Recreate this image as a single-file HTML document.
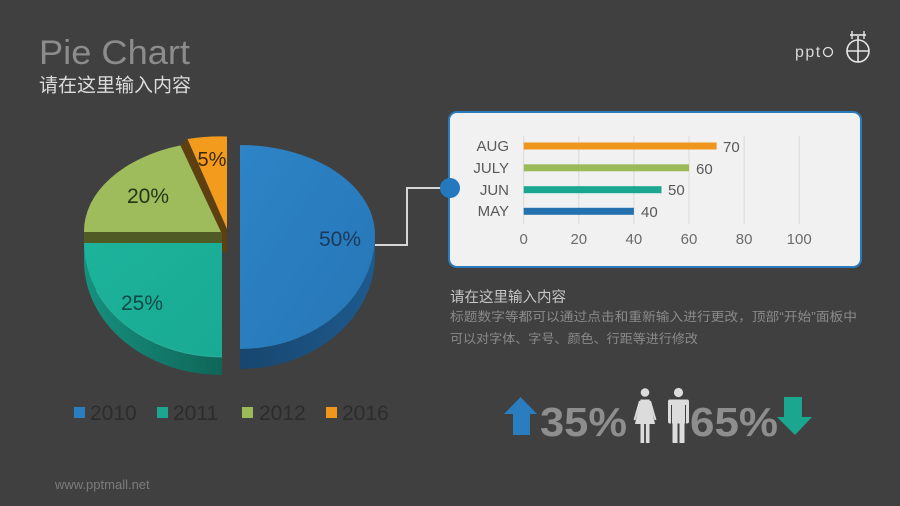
<!DOCTYPE html>
<html><head><meta charset="utf-8">
<style>
html,body{margin:0;padding:0;background:#404040;}
svg{display:block;}
text{font-family:"Liberation Sans","Noto Sans CJK SC",sans-serif;}
</style></head>
<body>
<svg width="900" height="506" viewBox="0 0 900 506" xmlns="http://www.w3.org/2000/svg">
<defs>
<linearGradient id="blueTop" x1="0" y1="0" x2="1" y2="1">
<stop offset="0" stop-color="#2d84c6"/><stop offset="1" stop-color="#2676b6"/></linearGradient>
<linearGradient id="blueSide" x1="0" y1="0" x2="1" y2="0">
<stop offset="0" stop-color="#17466e"/><stop offset="1" stop-color="#1d5a8e"/></linearGradient>
<linearGradient id="tealTop" x1="0" y1="0" x2="1" y2="1">
<stop offset="0" stop-color="#1db39b"/><stop offset="1" stop-color="#19aa93"/></linearGradient>
<linearGradient id="tealSide" x1="0" y1="0" x2="1" y2="0">
<stop offset="0" stop-color="#16907f"/><stop offset="1" stop-color="#0f6658"/></linearGradient>
</defs>
<rect width="900" height="506" fill="#404040"/>

<!-- Title -->
<text x="39" y="64" font-size="34" fill="#8c8c8c" textLength="151" lengthAdjust="spacingAndGlyphs">Pie Chart</text>
<text x="39" y="91.5" font-size="19" fill="#dcdcdc">请在这里输入内容</text>

<!-- Logo -->
<text x="795" y="57" font-size="16" fill="#d8d8d8" letter-spacing="1.5" font-weight="normal">ppt</text>
<circle cx="828" cy="52" r="4.5" fill="none" stroke="#e0e0e0" stroke-width="1.3"/>
<circle cx="858" cy="51" r="11" fill="none" stroke="#e6e6e6" stroke-width="1.6"/>
<line x1="858" y1="36" x2="858" y2="62" stroke="#e6e6e6" stroke-width="1.6"/>
<line x1="847" y1="51" x2="869" y2="51" stroke="#e6e6e6" stroke-width="1.6"/>
<line x1="850" y1="35" x2="866" y2="35" stroke="#e6e6e6" stroke-width="1.6"/>
<line x1="852" y1="31" x2="852" y2="39" stroke="#e6e6e6" stroke-width="1.4"/>
<line x1="864" y1="31" x2="864" y2="39" stroke="#e6e6e6" stroke-width="1.4"/>

<!-- Pie: orange -->
<path d="M187,139 L227,229 L227,252 L221,252 L179.4,146.4 Z" fill="#5e3f0f"/>
<path d="M227,229 L187.5,139 A138,90 0 0 1 227,136.5 Z" fill="#f29b1d"/>
<!-- green -->
<rect x="84" y="232" width="138" height="12" fill="#4f5a25"/>
<path d="M221,232 L84,232 A138,90 0 0 1 180.4,145.4 Z" fill="#9ebc5b"/>
<!-- teal -->
<path d="M84,243 A138,114 0 0 0 222,357 L222,375 A138,114 0 0 1 84,261 Z" fill="url(#tealSide)"/>
<path d="M222,243 L84,243 A138,114 0 0 0 222,357 Z" fill="url(#tealTop)"/>
<path d="M96,290 A138,114 0 0 0 222,357" fill="none" stroke="#3fd0b8" stroke-width="1" opacity="0.5"/>
<!-- blue -->
<path d="M375,235 A135,114 0 0 1 240,349 L240,369 A135,114 0 0 0 375,255 Z" fill="url(#blueSide)"/>
<path d="M240,235 L240,145 A135,90 0 0 1 375,235 A135,114 0 0 1 240,349 Z" fill="url(#blueTop)"/>

<!-- pie labels -->
<text x="212" y="166" font-size="20" fill="#3a2608" text-anchor="middle">5%</text>
<text x="148" y="203" font-size="21" fill="#26341a" text-anchor="middle">20%</text>
<text x="142" y="310" font-size="21" fill="#0f4a44" text-anchor="middle">25%</text>
<text x="340" y="246" font-size="21" fill="#1a3a5c" text-anchor="middle">50%</text>

<!-- connector -->
<polyline points="375,245 407,245 407,188 445,188" fill="none" stroke="#d6d6d6" stroke-width="2"/>

<!-- panel -->
<rect x="449" y="112" width="412" height="155" rx="8" ry="8" fill="#f1f1f1" stroke="#2a7bbd" stroke-width="2"/>
<circle cx="450" cy="188" r="10" fill="#2478bd"/>

<!-- grid -->
<g stroke="#dadada" stroke-width="1">
<line x1="523.7" y1="136" x2="523.7" y2="224"/>
<line x1="578.8" y1="136" x2="578.8" y2="224"/>
<line x1="633.9" y1="136" x2="633.9" y2="224"/>
<line x1="689" y1="136" x2="689" y2="224"/>
<line x1="744.1" y1="136" x2="744.1" y2="224"/>
<line x1="799.2" y1="136" x2="799.2" y2="224"/>
</g>
<!-- bars -->
<rect x="523.7" y="142.5" width="192.9" height="7" fill="#f0961e"/>
<rect x="523.7" y="164.3" width="165.3" height="7" fill="#9bbb59"/>
<rect x="523.7" y="186.2" width="137.8" height="7" fill="#1aa68f"/>
<rect x="523.7" y="207.8" width="110.2" height="7" fill="#2471b0"/>
<g font-size="15" fill="#595959">
<text x="509" y="151" text-anchor="end">AUG</text>
<text x="509" y="173" text-anchor="end">JULY</text>
<text x="509" y="195" text-anchor="end">JUN</text>
<text x="509" y="216" text-anchor="end">MAY</text>
<text x="723" y="152">70</text>
<text x="696" y="174">60</text>
<text x="668" y="195">50</text>
<text x="641" y="217">40</text>
</g>
<g font-size="15" fill="#6b6b6b" text-anchor="middle">
<text x="523.7" y="244">0</text>
<text x="578.8" y="244">20</text>
<text x="633.9" y="244">40</text>
<text x="689" y="244">60</text>
<text x="744.1" y="244">80</text>
<text x="799.2" y="244">100</text>
</g>

<!-- text block -->
<text x="450" y="302" font-size="14.5" fill="#c6c6c6">请在这里输入内容</text>
<text x="450" y="321" font-size="12.5" fill="#8a8a8a" textLength="407" lengthAdjust="spacingAndGlyphs">标题数字等都可以通过点击和重新输入进行更改，顶部“开始”面板中</text>
<text x="450" y="343" font-size="12.5" fill="#8a8a8a" textLength="248" lengthAdjust="spacingAndGlyphs">可以对字体、字号、颜色、行距等进行修改</text>

<!-- bottom stats -->
<path d="M504,414 L520.5,397 L537,414 L530,414 L530,435 L513,435 L513,414 Z" fill="#2a7dbf"/>
<text x="540" y="436" font-size="41" font-weight="bold" fill="#8e8e8e" textLength="87" lengthAdjust="spacingAndGlyphs">35%</text>
<!-- woman -->
<g fill="#dcdcdc">
<circle cx="645" cy="392.5" r="4.3"/>
<path d="M640.5,399.5 L649.5,399.5 L655,424 L635,424 Z"/>
<rect x="640.5" y="423" width="3.6" height="20"/>
<rect x="645.9" y="423" width="3.6" height="20"/>
</g>
<line x1="640" y1="401" x2="634.5" y2="420" stroke="#dcdcdc" stroke-width="2"/>
<line x1="650" y1="401" x2="655.5" y2="420" stroke="#dcdcdc" stroke-width="2"/>
<!-- man -->
<g fill="#dcdcdc">
<circle cx="678.5" cy="392.5" r="4.6"/>
<rect x="668" y="399.5" width="21" height="24" rx="2"/>
<rect x="672.5" y="420" width="5" height="23"/>
<rect x="679.5" y="420" width="5" height="23"/>
<rect x="672" y="416" width="13" height="6"/>
</g>
<line x1="671.5" y1="405" x2="671.5" y2="426" stroke="#404040" stroke-width="1"/>
<line x1="685.5" y1="405" x2="685.5" y2="426" stroke="#404040" stroke-width="1"/>
<text x="690" y="436" font-size="41" font-weight="bold" fill="#8e8e8e" textLength="88" lengthAdjust="spacingAndGlyphs">65%</text>
<path d="M784,397 L802,397 L802,417 L812,417 L795,435 L777,417 L784,417 Z" fill="#1aa68f"/>

<!-- legend -->
<rect x="74" y="407" width="11" height="11" fill="#2a7dbf"/>
<rect x="157" y="407" width="11" height="11" fill="#1aa68f"/>
<rect x="242" y="407" width="11" height="11" fill="#9bbb59"/>
<rect x="326" y="407" width="11" height="11" fill="#f0961e"/>
<g font-size="21" fill="#2c2c2c">
<text x="90" y="420">2010</text>
<text x="173" y="420">2011</text>
<text x="259" y="420">2012</text>
<text x="342" y="420">2016</text>
</g>

<!-- footer -->
<text x="55" y="489" font-size="13" fill="#7c7c7c">www.pptmall.net</text>
</svg>
</body></html>
